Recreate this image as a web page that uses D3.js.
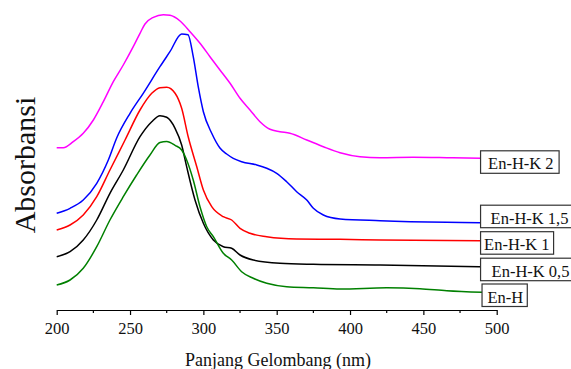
<!DOCTYPE html>
<html>
<head>
<meta charset="utf-8">
<script src="https://cdn.jsdelivr.net/npm/d3@7"></script>
<style>
  body { margin: 0; background: #fff; }
  svg { display: block; font-family: "Liberation Serif", "Times New Roman", serif; }
</style>
</head>
<body>
<div id="chart"></div>
<script>
// wavelength (nm), absorbance (a.u., offset stacked)
const enHK2 = [[200,1.623],[204.5,1.623],[211.3,1.683],[218.1,1.767],[225,1.90],[231.8,2.083],[238.6,2.283],[245.4,2.45],[252.2,2.633],[256.8,2.767],[260.2,2.86],[265.9,2.927],[272.7,2.953],[277.3,2.947],[284.1,2.89],[290.9,2.783],[297.7,2.667],[304.5,2.533],[311.3,2.40],[318.2,2.267],[325,2.117],[331.8,2.00],[338.6,1.883],[345.4,1.807],[352.2,1.783],[359,1.767],[370.5,1.70],[381.8,1.633],[393.2,1.573],[406.8,1.533],[420.5,1.523],[443,1.527],[466,1.523],[489,1.517]];
const enHK15 = [[200,0.967],[209.1,1.017],[218.1,1.10],[227.3,1.267],[235.2,1.50],[240.9,1.72],[250,1.967],[259,2.167],[270.4,2.433],[277.2,2.583],[285.2,2.76],[289.5,2.753],[293.1,2.533],[296.5,2.233],[300,1.983],[305.7,1.767],[311.3,1.62],[315.9,1.56],[320.4,1.517],[326.1,1.483],[336.4,1.45],[343.2,1.417],[350,1.367],[356.8,1.283],[363.6,1.183],[370.5,1.10],[375,1.017],[381.8,0.95],[393.2,0.91],[420.5,0.893],[465.9,0.877],[489,0.873]];
const enHK1 = [[200,0.80],[209.1,0.85],[218.1,0.95],[227.3,1.133],[236.3,1.40],[246.6,1.70],[256.8,2.00],[264.8,2.167],[270.4,2.223],[275,2.227],[280.7,2.167],[285.2,2.017],[289.7,1.73],[295.5,1.433],[300,1.20],[305.7,1.033],[313.6,0.933],[319.3,0.90],[325,0.817],[331.8,0.767],[343.2,0.733],[363.6,0.71],[393.2,0.707],[420.5,0.70],[489,0.693]];
const enHK05 = [[200,0.533],[209.1,0.583],[218.1,0.70],[227.3,0.90],[236.3,1.167],[245.4,1.40],[256.8,1.733],[264.8,1.883],[270.4,1.943],[275,1.927],[280.7,1.817],[285.2,1.65],[288.6,1.433],[294.3,1.10],[300,0.867],[306.8,0.70],[313.6,0.633],[319.3,0.617],[325,0.55],[334,0.50],[352.2,0.467],[375,0.457],[420.5,0.45],[489,0.433]];
const enH = [[200,0.25],[209.1,0.30],[218.1,0.417],[227.3,0.633],[236.3,0.90],[245.4,1.133],[254.5,1.35],[263.6,1.55],[270.4,1.675],[275,1.685],[280.7,1.647],[285.2,1.60],[288.6,1.50],[293.1,1.30],[297.7,1.033],[302.3,0.833],[306.8,0.733],[313.6,0.567],[319.3,0.50],[326.1,0.383],[334,0.317],[343.2,0.267],[356.8,0.233],[375,0.223],[393.2,0.21],[425,0.222],[447.7,0.213],[465.9,0.193],[490,0.177]];

const seriesNames = ["En-H-K 2", "En-H-K 1,5", "En-H-K 1", "En-H-K 0,5", "En-H"];
const seriesData = [enHK2, enHK15, enHK1, enHK05, enH];
const xTicks = [200, 250, 300, 350, 400, 450, 500];
const xMinorTicks = [225, 275, 325, 375, 425, 475];

const colors = ["#ff00ff", "#0000ff", "#ff0000", "#000000", "#008000"];
// label box layout: offset of box top from line end, text padding
const boxLayout = [
  {dy: -7.5, padL: 7.5, padR: 5.5},
  {dy: -17.5, padL: 10, padR: 10},
  {dy: -9, padL: 3.5, padR: 4},
  {dy: -8.5, padL: 11, padR: 10},
  {dy: -8.3, padL: 5.5, padR: 4}
];

const width = 571, height = 369;
const svg = d3.select("#chart").append("svg")
  .attr("width", width)
  .attr("height", height);

const x = d3.scaleLinear().domain([200, 500]).range([56.7, 496.7]);
const y = d3.scaleLinear().domain([0, 3]).range([310, 10]);

const line = d3.line()
  .x(d => x(d[0]))
  .y(d => y(d[1]))
  .curve(d3.curveMonotoneX);

svg.selectAll("path.spec")
  .data(seriesData)
  .enter()
  .append("path")
  .attr("class", "spec")
  .attr("d", line)
  .attr("fill", "none")
  .attr("stroke", (d, i) => colors[i])
  .attr("stroke-width", 1.5)
  .attr("stroke-linejoin", "round");

// x axis
const axisG = svg.append("g").attr("transform", "translate(0,310)");
axisG.call(d3.axisBottom(x).tickValues(xTicks).tickSize(5).tickPadding(7.5).tickSizeOuter(0));
axisG.select(".domain").attr("stroke-width", 1.2);
axisG.selectAll(".tick line").attr("stroke-width", 1.2);
axisG.selectAll(".tick text")
  .attr("font-family", "Liberation Serif, Times New Roman, serif")
  .attr("font-size", 16.5)
  .attr("fill", "#111");
axisG.selectAll(".minor")
  .data(xMinorTicks)
  .enter()
  .append("line")
  .attr("class", "minor")
  .attr("x1", d => x(d)).attr("x2", d => x(d))
  .attr("y1", 0).attr("y2", 3)
  .attr("stroke", "#000")
  .attr("stroke-width", 1.2);

// axis titles
svg.append("text")
  .attr("x", 278)
  .attr("y", 366)
  .attr("text-anchor", "middle")
  .attr("font-size", 18)
  .attr("fill", "#111")
  .text("Panjang Gelombang (nm)");

svg.append("text")
  .attr("transform", "translate(35,165) rotate(-90)")
  .attr("text-anchor", "middle")
  .attr("font-size", 30)
  .attr("fill", "#111")
  .text("Absorbansi");

// series label boxes
seriesData.forEach((data, i) => {
  const last = data[data.length - 1];
  const lx = x(last[0]);
  const ly = y(last[1]);
  const g = svg.append("g");
  const rect = g.append("rect");
  const t = g.append("text")
    .attr("x", lx + boxLayout[i].padL)
    .attr("y", ly + boxLayout[i].dy + 18.5)
    .attr("font-size", 16.5)
    .attr("fill", "#111")
    .text(seriesNames[i]);
  const w = t.node().getComputedTextLength();
  rect.attr("x", lx)
    .attr("y", ly + boxLayout[i].dy)
    .attr("width", boxLayout[i].padL + w + boxLayout[i].padR)
    .attr("height", 22.5)
    .attr("fill", "#fff")
    .attr("stroke", "#333")
    .attr("stroke-width", 1.2);
});
</script>
</body>
</html>
